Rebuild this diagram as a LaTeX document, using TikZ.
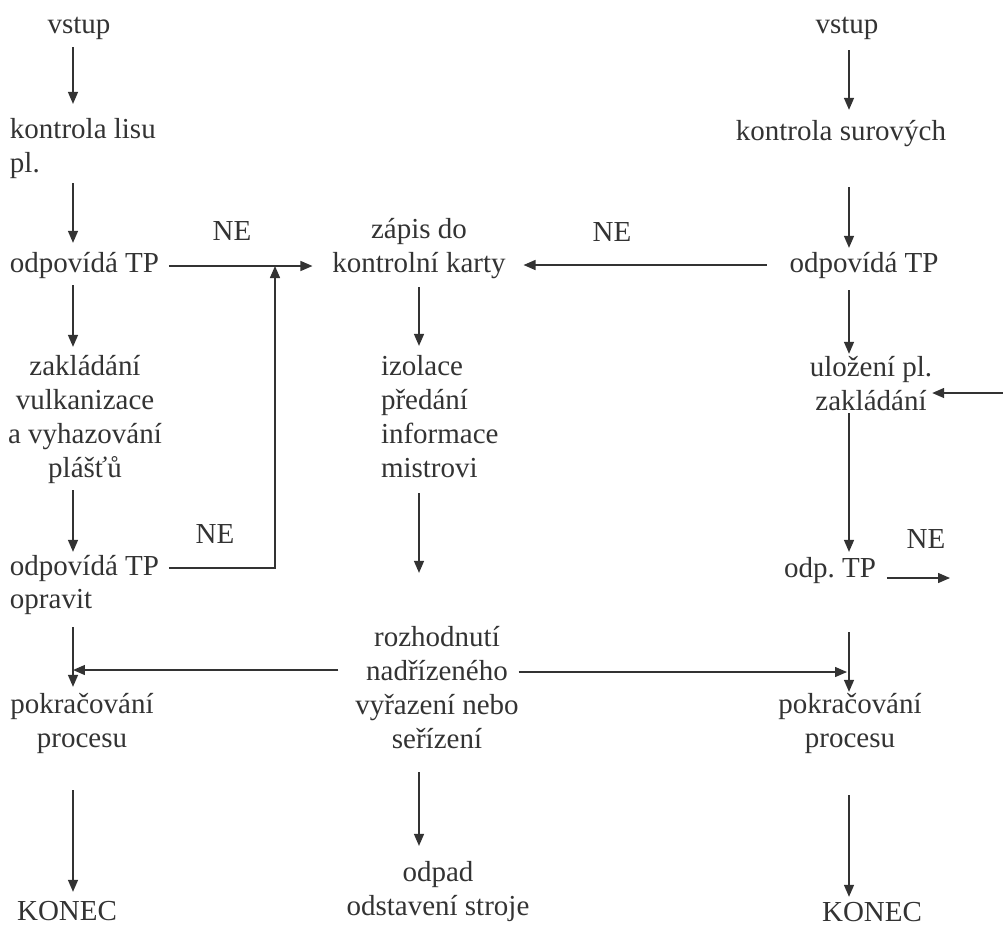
\documentclass[tikz,border=0pt]{standalone}
\usepackage{fontspec}
\setmainfont{Liberation Serif}
\usetikzlibrary{arrows.meta}

\begin{document}
\begin{tikzpicture}[x=0.02cm,y=-0.02cm,
    font=\fontsize{16.5}{19.35}\selectfont,
    every node/.style={inner sep=0pt,outer sep=0pt,text=black!80},
    arr/.style={-{Triangle[length=0.24cm,width=0.2cm]},line width=0.8pt,draw=black!80}]
  \useasboundingbox (0,0) rectangle (1003,927);
  % arrow columns and free ends
  \coordinate (colA) at (73,0);
  \coordinate (colB) at (419,0);
  \coordinate (colC) at (849,0);
  \coordinate (joinA) at (275,266);
  \coordinate (joinB) at (73,670);
  \coordinate (joinC) at (847,672);
  \coordinate (inR) at (1003,393);
  \coordinate (outR) at (950,578);

  % left branch (multi-line nodes sit on their last line)
  \node[anchor=base] (vstupA) at (79,33) {vstup};
  \node[anchor=base west,align=left] (kontrolaA) at (10,172) {kontrola lisu\\pl.};
  \node[anchor=base west] (odpA) at (10,272) {odpovídá TP};
  \node[anchor=base,align=center] (zaklA) at (85,477) {zakládání\\vulkanizace\\a vyhazování\\plášťů};
  \node[anchor=base west] (odpB) at (10,575) {odpovídá TP};
  \node[anchor=base west] (opravB) at (10,608) {opravit};
  \node[anchor=base,align=center] (pokrA) at (82,747) {pokračování\\procesu};
  \node[anchor=base] (konecA) at (67,920) {KONEC};

  % middle branch
  \node[anchor=base,align=center] (zapis) at (419,272) {zápis do\\kontrolní karty};
  \node[anchor=base west,align=left] (izolace) at (381,477) {izolace\\předání\\informace\\mistrovi};
  \node[anchor=base,align=center] (rozhod) at (437,748) {rozhodnutí\\nadřízeného\\vyřazení nebo\\seřízení};
  \node[anchor=base,align=center] (odpad) at (438,915) {odpad\\odstavení stroje};

  % right branch
  \node[anchor=base] (vstupB) at (847,33) {vstup};
  \node[anchor=base] (kontrolaB) at (841,140) {kontrola surových};
  \node[anchor=base] (odpC) at (864,272) {odpovídá TP};
  \node[anchor=base,align=center] (ulozeni) at (871,410) {uložení pl.\\zakládání};
  \node[anchor=base] (odpD) at (830,577) {odp.\ TP};
  \node[anchor=base,align=center] (pokrB) at (850,747) {pokračování\\procesu};
  \node[anchor=base] (konecB) at (872,921) {KONEC};

  % NE labels
  \node[anchor=base] (neA) at (232,240) {NE};
  \node[anchor=base] (neB) at (612,241) {NE};
  \node[anchor=base] (neC) at (215,543) {NE};
  \node[anchor=base] (neD) at (926,548) {NE};

  % left arrows
  \draw[arr,shorten <=0.16cm,shorten >=0.28cm] (colA |- vstupA.south) -- (colA |- kontrolaA.north);
  \draw[arr,shorten <=0.10cm,shorten >=0.18cm] (colA |- kontrolaA.south) -- (colA |- odpA.north);
  \draw[arr,shorten <=0.14cm,shorten >=0.16cm] (colA |- odpA.south) -- (colA |- zaklA.north);
  \draw[arr,shorten <=0.14cm,shorten >=0.06cm] (colA |- zaklA.south) -- (colA |- odpB.north);
  \draw[arr,shorten <=0.26cm,shorten >=0.12cm] (colA |- opravB.south) -- (colA |- pokrA.north);
  \draw[arr,shorten <=0.74cm,shorten >=0.18cm] (colA |- pokrA.south) -- (colA |- konecA.north);
  \draw[arr,shorten <=0.2cm,shorten >=0.4cm] (joinA -| odpA.east) -- (joinA -| zapis.west);
  \draw[arr,shorten <=0.2cm] (odpB.east) -| (joinA);

  % middle arrows
  \draw[arr,shorten <=0.46cm,shorten >=0.36cm] (odpC.west) -- (odpC.west -| zapis.east);
  \draw[arr,shorten <=0.18cm,shorten >=0.18cm] (colB |- zapis.south) -- (colB |- izolace.north);
  \draw[arr,shorten <=0.32cm,shorten >=1.06cm] (colB |- izolace.south) -- (colB |- rozhod.north);
  \draw[arr,shorten <=0.48cm,shorten >=0.3cm] (colB |- rozhod.south) -- (colB |- odpad.north);
  \draw[arr,shorten <=0.34cm] (joinB -| rozhod.west) -- (joinB);
  \draw[arr] (joinC -| rozhod.east) -- (joinC);

  % right arrows
  \draw[arr,shorten <=0.22cm,shorten >=0.2cm] (colC |- vstupB.south) -- (colC |- kontrolaB.north);
  \draw[arr,shorten <=0.82cm,shorten >=0.08cm] (colC |- kontrolaB.south) -- (colC |- odpC.north);
  \draw[arr,shorten <=0.24cm,shorten >=0.04cm] (colC |- odpC.south) -- (colC |- ulozeni.north);
  \draw[arr,shorten <=0.06cm,shorten >=0.1cm] (colC |- ulozeni.south) -- (colC |- odpD.north);
  \draw[arr,shorten <=0.98cm,shorten >=0.02cm] (colC |- odpD.south) -- (colC |- pokrB.north);
  \draw[arr,shorten <=0.84cm,shorten >=0.1cm] (colC |- pokrB.south) -- (colC |- konecB.north);
  \draw[arr] (inR) -- (inR -| ulozeni.east);
  \draw[arr,shorten <=0.22cm] (outR -| odpD.east) -- (outR);
\end{tikzpicture}
\end{document}
